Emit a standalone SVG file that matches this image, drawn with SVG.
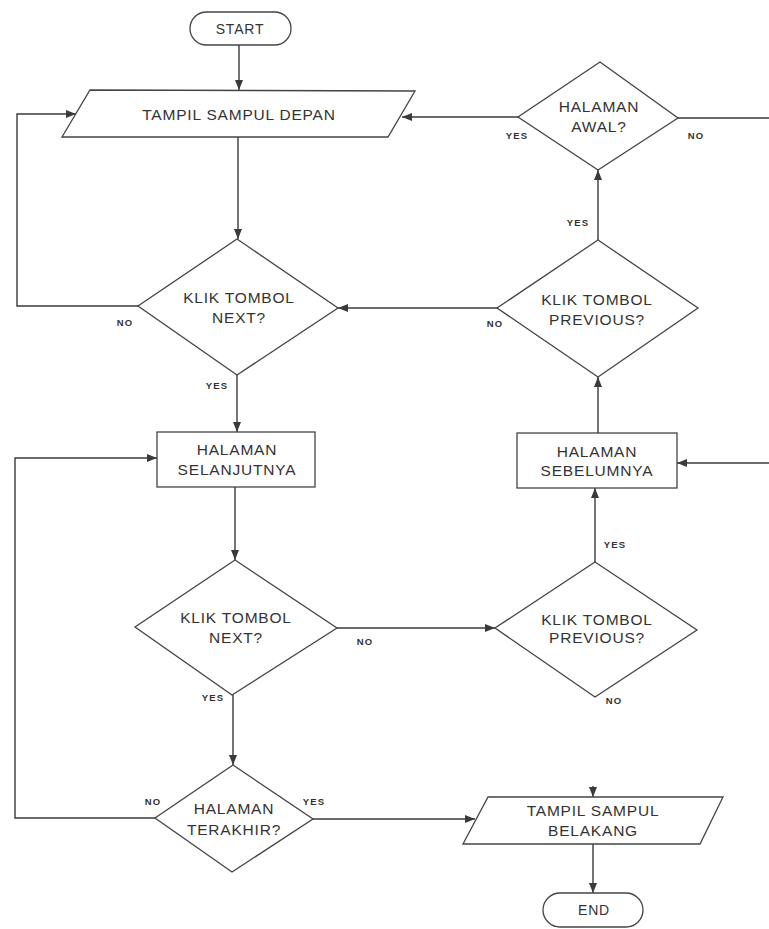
<svg xmlns="http://www.w3.org/2000/svg" width="769" height="929" viewBox="0 0 769 929">
<style>
.shape{fill:#fff;stroke:#444;stroke-width:1.3}
.line{fill:none;stroke:#3a3a3a;stroke-width:1.4}
.t{font-family:"Liberation Sans",Arial,sans-serif;font-size:15.5px;fill:#333;text-anchor:middle;letter-spacing:0.8px}
.lbl{font-family:"Liberation Sans",Arial,sans-serif;font-size:9.5px;font-weight:bold;fill:#333;text-anchor:middle;letter-spacing:1.2px}
</style>
<defs>
<marker id="arr" markerUnits="userSpaceOnUse" markerWidth="10" markerHeight="10" viewBox="0 0 10 10" refX="10" refY="5" orient="auto">
<path d="M0,1 L10,5 L0,9 Z" fill="#3a3a3a"/>
</marker>
</defs>
<rect width="769" height="929" fill="#fff"/>
<g id="connectors">
<line class="line" x1="239" y1="45" x2="239" y2="90" marker-end="url(#arr)"/>
<line class="line" x1="238" y1="137" x2="238" y2="239" marker-end="url(#arr)"/>
<polyline class="line" points="138,306 17,306 17,114 76,114" marker-end="url(#arr)"/>
<line class="line" x1="237" y1="375" x2="237" y2="432" marker-end="url(#arr)"/>
<line class="line" x1="235" y1="487" x2="235" y2="560" marker-end="url(#arr)"/>
<line class="line" x1="337" y1="628" x2="495" y2="628" marker-end="url(#arr)"/>
<line class="line" x1="233" y1="695" x2="233" y2="765" marker-end="url(#arr)"/>
<polyline class="line" points="155,818 15,818 15,458 157,458" marker-end="url(#arr)"/>
<line class="line" x1="313" y1="819" x2="475" y2="819" marker-end="url(#arr)"/>
<line class="line" x1="593" y1="786" x2="593" y2="797" marker-end="url(#arr)"/>
<line class="line" x1="593" y1="844" x2="593" y2="893" marker-end="url(#arr)"/>
<line class="line" x1="595" y1="562" x2="595" y2="488" marker-end="url(#arr)"/>
<line class="line" x1="598" y1="433" x2="598" y2="377" marker-end="url(#arr)"/>
<line class="line" x1="497" y1="308" x2="338" y2="308" marker-end="url(#arr)"/>
<line class="line" x1="598" y1="240" x2="598" y2="170" marker-end="url(#arr)"/>
<line class="line" x1="518" y1="117" x2="402" y2="117" marker-end="url(#arr)"/>
<line class="line" x1="678" y1="118" x2="769" y2="118"/>
<line class="line" x1="769" y1="463" x2="677" y2="463" marker-end="url(#arr)"/>
<text class="lbl" x="125" y="326">NO</text>
<text class="lbl" x="217" y="389">YES</text>
<text class="lbl" x="365" y="645">NO</text>
<text class="lbl" x="213" y="701">YES</text>
<text class="lbl" x="153" y="805">NO</text>
<text class="lbl" x="314" y="805">YES</text>
<text class="lbl" x="615" y="548">YES</text>
<text class="lbl" x="614" y="704">NO</text>
<text class="lbl" x="495" y="327">NO</text>
<text class="lbl" x="578" y="226">YES</text>
<text class="lbl" x="517" y="139">YES</text>
<text class="lbl" x="696" y="139">NO</text>
</g>
<g id="start">
<rect class="shape" x="190" y="12" width="101" height="33" rx="16.5"/>
<text class="t" x="240" y="34" style="font-size:14px">START</text>
</g>
<g id="tampil-sampul-depan">
<polygon class="shape" points="90,90 415,91 388,137 62,137"/>
<text class="t" x="239" y="120">TAMPIL SAMPUL DEPAN</text>
</g>
<g id="klik-next-1">
<polygon class="shape" points="237,239 338,308 237,375 138,306"/>
<text class="t" x="239" y="303">KLIK TOMBOL</text>
<text class="t" x="239" y="323">NEXT?</text>
</g>
<g id="halaman-selanjutnya">
<rect class="shape" x="157" y="432" width="158" height="55"/>
<text class="t" x="237" y="455">HALAMAN</text>
<text class="t" x="237" y="475">SELANJUTNYA</text>
</g>
<g id="klik-next-2">
<polygon class="shape" points="235,560 337,628 232,695 135,627"/>
<text class="t" x="236" y="623">KLIK TOMBOL</text>
<text class="t" x="236" y="643">NEXT?</text>
</g>
<g id="halaman-terakhir">
<polygon class="shape" points="233,765 313,819 232,872 155,818"/>
<text class="t" x="234" y="814">HALAMAN</text>
<text class="t" x="234" y="835">TERAKHIR?</text>
</g>
<g id="tampil-sampul-belakang">
<polygon class="shape" points="488,797 723,797 700,844 463,844"/>
<text class="t" x="593" y="816">TAMPIL SAMPUL</text>
<text class="t" x="593" y="836">BELAKANG</text>
</g>
<g id="end">
<rect class="shape" x="543" y="893" width="100" height="34" rx="17"/>
<text class="t" x="594" y="915" style="font-size:14px">END</text>
</g>
<g id="klik-previous-2">
<polygon class="shape" points="595,562 697,630 595,697 495,628"/>
<text class="t" x="597" y="625">KLIK TOMBOL</text>
<text class="t" x="597" y="643">PREVIOUS?</text>
</g>
<g id="halaman-sebelumnya">
<rect class="shape" x="517" y="433" width="160" height="55"/>
<text class="t" x="597" y="457">HALAMAN</text>
<text class="t" x="597" y="476">SEBELUMNYA</text>
</g>
<g id="klik-previous-1">
<polygon class="shape" points="598,240 698,308 598,377 497,308"/>
<text class="t" x="597" y="305">KLIK TOMBOL</text>
<text class="t" x="597" y="325">PREVIOUS?</text>
</g>
<g id="halaman-awal">
<polygon class="shape" points="600,62 678,118 598,170 518,117"/>
<text class="t" x="599" y="112">HALAMAN</text>
<text class="t" x="599" y="132">AWAL?</text>
</g>
</svg>
